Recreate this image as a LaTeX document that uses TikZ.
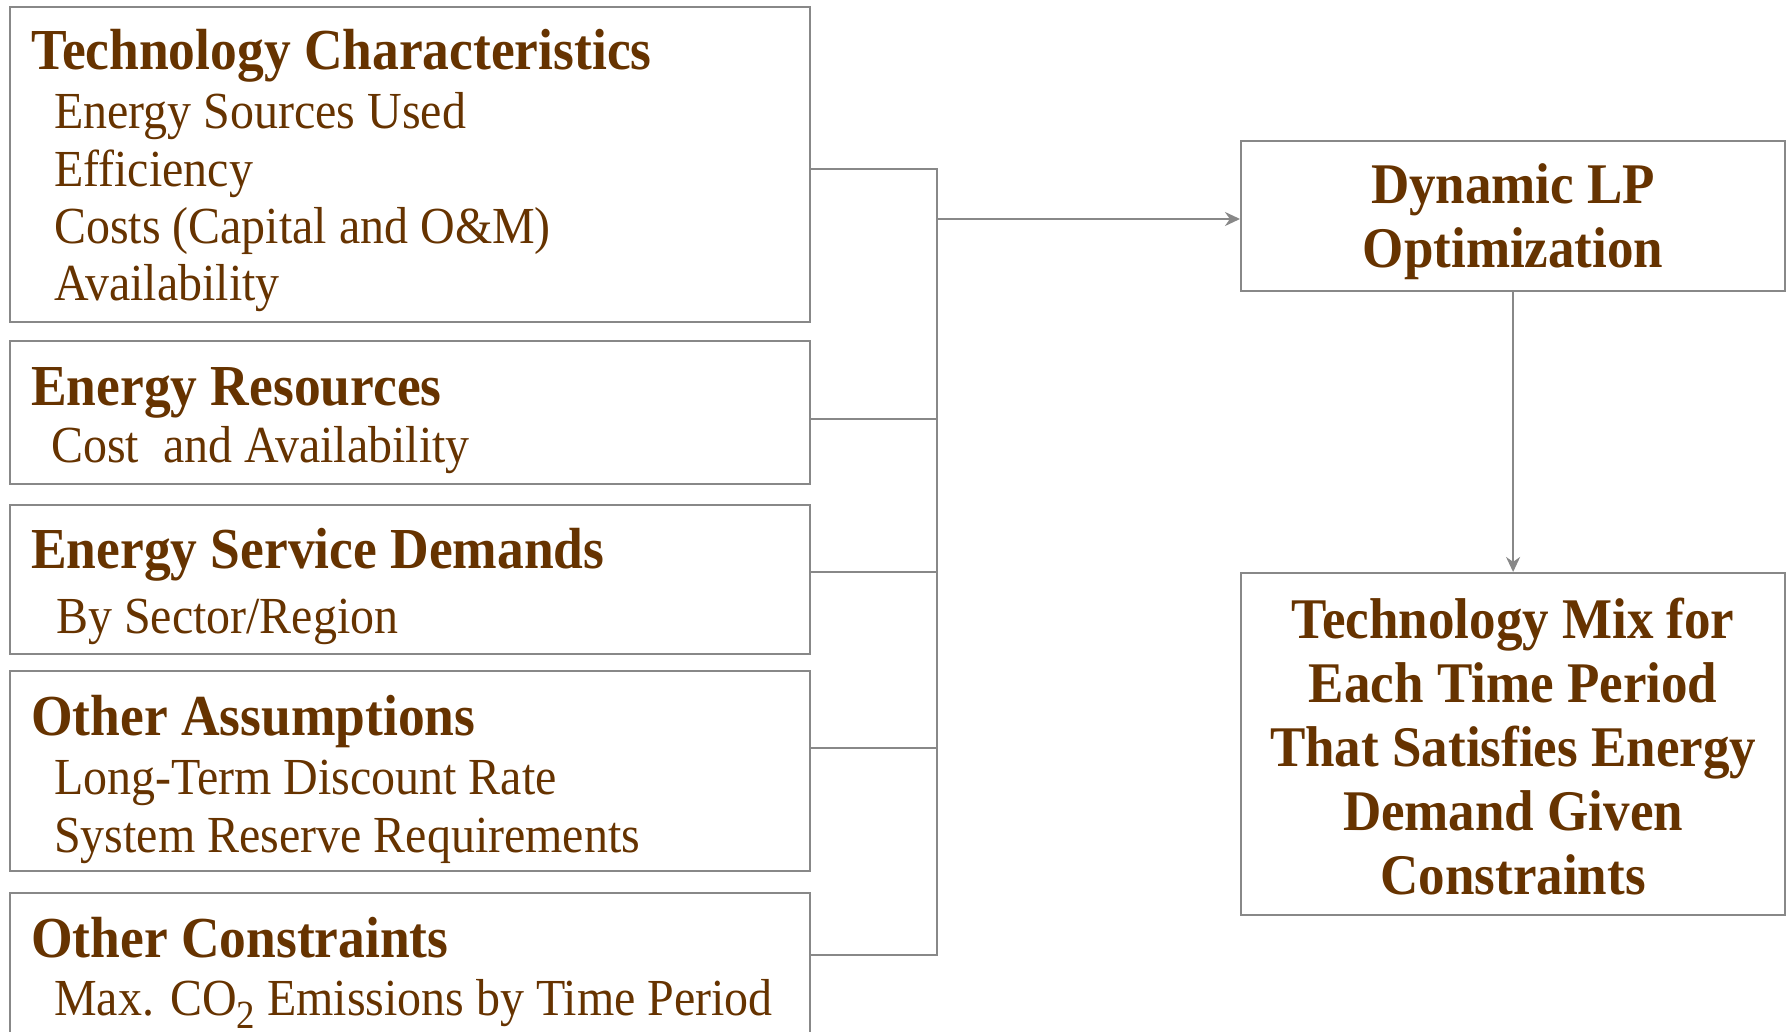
\documentclass[tikz,border=0pt]{standalone}
\usepackage{fontspec}
\setmainfont[FakeStretch=0.922]{Liberation Serif}
\usetikzlibrary{arrows.meta}
\definecolor{txt}{RGB}{102,51,0}
\definecolor{ln}{RGB}{136,136,136}
\begin{document}
\begin{tikzpicture}[x=1pt,y=-1pt,
  box/.style={draw=ln,line width=2.2pt,fill=white,rectangle,inner sep=0pt,anchor=north west},
  ttl/.style={anchor=base west,inner sep=0pt,text=txt,font=\fontsize{58}{64}\selectfont\bfseries},
  sub/.style={anchor=base west,inner sep=0pt,text=txt,font=\fontsize{52}{58}\selectfont},
  rbox/.style={draw=ln,line width=2.2pt,fill=white,rectangle,inner sep=0pt,anchor=north west},
  rtxt/.style={align=center,inner sep=0pt,text=txt,font=\fontsize{57.5}{64}\selectfont\bfseries},
  conn/.style={draw=ln,line width=2.2pt},
  arr/.style={conn,-{Stealth[length=15pt,width=14pt]}}]
\useasboundingbox (0,0) rectangle (1791,1032);
\clip (0,0) rectangle (1791,1032);
% left boxes
\node[box,minimum width=800pt,minimum height=315pt] (b1) at (9,6) {};
\node[box,minimum width=800pt,minimum height=143pt] (b2) at (9,340) {};
\node[box,minimum width=800pt,minimum height=149pt] (b3) at (9,504) {};
\node[box,minimum width=800pt,minimum height=200pt] (b4) at (9,670) {};
\node[box,minimum width=800pt,minimum height=168pt] (b5) at (9,892) {};
% texts
\node[ttl] (t1) at (31,70) {Technology Characteristics};
\node[sub] (s11) at (54,129) {Energy Sources Used};
\node[sub] (s12) at (54,187) {Efficiency};
\node[sub] (s13) at (54,244) {Costs (Capital and O\&M)};
\node[sub] (s14) at (54,301) {Availability};
\node[ttl] (t2) at (31,405) {Energy Resources};
\node[sub] (s21) at (51,462) {Cost\ \ and Availability};
\node[ttl] (t3) at (31,568) {Energy Service Demands};
\node[sub] (s31) at (56,633) {By Sector/Region};
\node[ttl] (t4) at (31,735) {Other Assumptions};
\node[sub] (s41) at (54,794) {Long-Term Discount Rate};
\node[sub] (s42) at (54,852) {System Reserve Requirements};
\node[ttl] (t5) at (31,957) {Other Constraints};
\node[sub] (s51) at (54,1015) {Max. CO\raisebox{-13pt}{\fontsize{40}{40}\selectfont 2} Emissions by Time Period};
% right boxes
\node[rbox,minimum width=544pt,minimum height=150pt] (lp) at (1240,140) {};
\node[rtxt] (lpt) at ([yshift=-6pt]lp.center) {Dynamic LP\\Optimization};
\node[rbox,minimum width=544pt,minimum height=342pt] (mix) at (1240,572) {};
\node[rtxt] (mixt) at ([yshift=-2pt]mix.center)
  {Technology Mix for\\Each Time Period\\That Satisfies Energy\\Demand Given\\Constraints};
% bus
\coordinate (c1) at (937,169);
\coordinate (c2) at (937,419);
\coordinate (c3) at (937,572);
\coordinate (c4) at (937,748);
\coordinate (c5) at (937,955);
\coordinate (ca) at (937,219);
\draw[conn] (b1.east |- c1) -- (c1);
\draw[conn] (b2.east |- c2) -- (c2);
\draw[conn] (b3.east |- c3) -- (c3);
\draw[conn] (b4.east |- c4) -- (c4);
\draw[conn] (b5.east |- c5) -- (c5);
\draw[conn,line cap=rect] (c1) -- (c5);
\draw[arr] (ca) -- (lp.west |- ca);
\draw[arr] ([yshift=2pt]lp.south) -- (mix.north);
\end{tikzpicture}
\end{document}
